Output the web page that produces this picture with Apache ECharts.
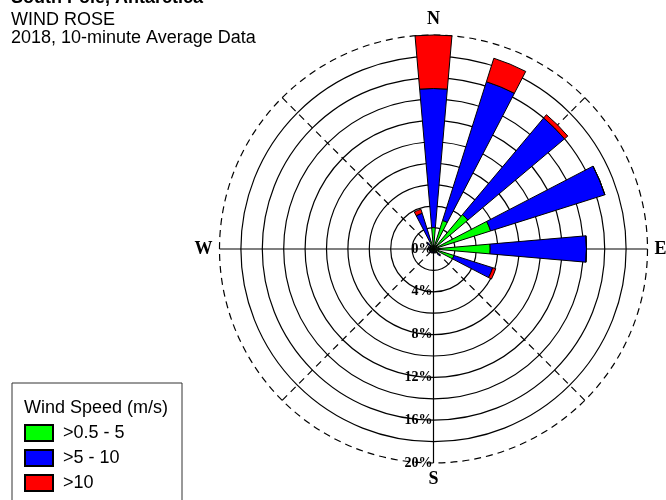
<!DOCTYPE html>
<html>
<head>
<meta charset="utf-8">
<title>Wind Rose</title>
<script src="https://cdn.jsdelivr.net/npm/echarts@6/dist/echarts.min.js"></script>
<style>
    html, body { margin: 0; padding: 0; background: #fff; }
    #windRose { width: 666px; height: 500px; }
</style>
</head>
<body>
<div id="windRose"></div>
<script>
// 16 directions, clockwise from north
let directions = ['N', 'NNE', 'NE', 'ENE', 'E', 'ESE', 'SE', 'SSE', 'S', 'SSW', 'SW', 'WSW', 'W', 'WNW', 'NW', 'NNW'];
// frequency (%) per speed class
let speedLow = [2.0, 2.8, 4.2, 5.6, 5.3, 2.0, 0.6, 0.3, 0.3, 0.3, 0.3, 0.3, 0.4, 0.4, 0.5, 0.8];   // >0.5 - 5
let speedMid = [13.0, 13.6, 11.8, 11.2, 9.0, 3.8, 0.2, 0.1, 0.1, 0.1, 0.1, 0.1, 0.1, 0.1, 0.3, 2.7]; // >5 - 10
let speedHigh = [5.0, 2.3, 0.4, 0, 0, 0.3, 0, 0, 0, 0, 0, 0, 0, 0, 0, 0.4];                         // >10
let speedNames = ['>0.5 - 5', '>5 - 10', '>10'];
let speedColors = ['#00ff00', '#0000ff', '#ff0000'];
let compassLabels = ['N', 'E', 'S', 'W'];

let center = [433.5, 249];
let outerR = 214;
let maxPct = 20;

let myChart = echarts.init(document.getElementById("windRose"));

function barSeries(name, data, color) {
    return {
        name: name,
        type: 'bar',
        coordinateSystem: 'polar',
        polarIndex: 3,
        stack: 'wind',
        barWidth: '44%',
        itemStyle: {
            color: color,
            borderColor: '#000',
            borderWidth: 1
        },
        data: data
    };
}

let option = {
    animation: false,
    backgroundColor: '#fff',
    title: [{
        left: 11,
        top: -10.5,
        padding: 0,
        itemGap: 4,
        text: 'South Pole, Antarctica',
        textStyle: { fontFamily: 'Liberation Sans', fontSize: 18, fontWeight: 'bold', color: '#000', lineHeight: 18 },
        subtext: 'WIND ROSE\n2018, 10-minute Average Data',
        subtextStyle: { fontFamily: 'Liberation Sans', fontSize: 18, color: '#000', lineHeight: 17.5 }
    }, {
        left: 24,
        top: 398,
        padding: 0,
        text: 'Wind Speed (m/s)',
        textStyle: { fontFamily: 'Liberation Sans', fontSize: 18, fontWeight: 'normal', color: '#000', lineHeight: 20 }
    }],
    legend: {
        orient: 'vertical',
        left: 24,
        top: 424,
        padding: 0,
        itemWidth: 28,
        itemHeight: 16,
        itemGap: 7,
        icon: 'rect',
        textStyle: { fontFamily: 'Liberation Sans', fontSize: 18, color: '#000', padding: [0, 0, 0, 5] },
        data: speedNames
    },
    graphic: [{
        // legend frame
        type: 'rect',
        shape: { x: 12, y: 383, width: 170, height: 130 },
        style: { fill: 'none', stroke: '#333', lineWidth: 1 },
        silent: true
    }],
    polar: [
        { center: center, radius: outerR },                 // 0: outer dashed ring + diagonals + N/E/S/W labels
        { center: center, radius: outerR },                 // 1: solid cross + % labels
        { center: center, radius: outerR * 18 / maxPct },   // 2: solid rings 2..18 %
        { center: center, radius: outerR }                  // 3: bars
    ],
    angleAxis: [{
        polarIndex: 0,
        type: 'category',
        data: compassLabels,
        startAngle: 135,
        boundaryGap: true,
        axisLine: { show: true, lineStyle: { color: '#000', width: 1.2, type: [7, 5] } },
        axisTick: { show: false },
        axisLabel: { show: true, margin: 7, fontFamily: 'Liberation Serif', fontWeight: 'bold', fontSize: 18, color: '#000' },
        splitLine: { show: true, lineStyle: { color: '#000', width: 1.2, type: [7, 5] } },
        splitArea: { show: false }
    }, {
        polarIndex: 1,
        type: 'value',
        min: 0,
        max: 360,
        interval: 90,
        startAngle: 270,
        axisLine: { show: false },
        axisTick: { show: false },
        axisLabel: { show: false },
        splitLine: { show: true, lineStyle: { color: '#000', width: 1.2 } }
    }, {
        polarIndex: 2,
        type: 'value',
        min: 0,
        max: 360,
        show: false
    }, {
        polarIndex: 3,
        type: 'category',
        data: directions,
        startAngle: 90 + 360 / 32,
        boundaryGap: true,
        show: false
    }],
    radiusAxis: [{
        polarIndex: 0,
        min: 0,
        max: maxPct,
        show: false
    }, {
        polarIndex: 1,
        min: 0,
        max: maxPct,
        interval: 4,
        axisLine: { show: false },
        axisTick: { show: false },
        splitLine: { show: false },
        axisLabel: {
            show: true,
            margin: -1,
            align: 'right',
            verticalAlign: 'middle',
            formatter: '{value}%',
            fontFamily: 'Liberation Serif',
            fontWeight: 'bold',
            fontSize: 14,
            color: '#000'
        }
    }, {
        polarIndex: 2,
        min: 0,
        max: 18,
        interval: 2,
        axisLine: { show: false },
        axisTick: { show: false },
        axisLabel: { show: false },
        splitLine: { show: true, lineStyle: { color: '#000', width: 1.2 } }
    }, {
        polarIndex: 3,
        min: 0,
        max: maxPct,
        show: false
    }],
    series: [
        barSeries(speedNames[0], speedLow, speedColors[0]),
        barSeries(speedNames[1], speedMid, speedColors[1]),
        barSeries(speedNames[2], speedHigh, speedColors[2])
    ]
};

myChart.setOption(option);
</script>
</body>
</html>
